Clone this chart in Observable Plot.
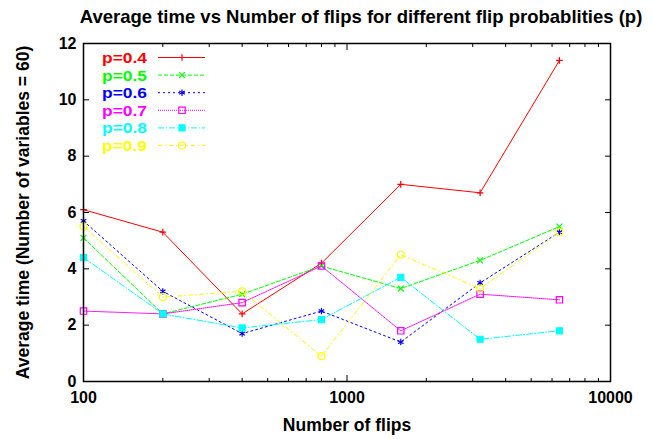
<!DOCTYPE html>
<html><head><meta charset="utf-8">
<script src="https://cdn.jsdelivr.net/npm/d3@7"></script>
<script src="https://cdn.jsdelivr.net/npm/@observablehq/plot@0.6"></script>
<style>body{margin:0;background:#fff}</style>
</head><body><div id="chart"></div>
<script>
const flips = [100, 200, 400, 800, 1600, 3200, 6400];
const p04 = [6.1, 5.3, 2.4, 4.2, 7.0, 6.7, 11.4];
const p05 = [5.1, 2.4, 3.1, 4.1, 3.3, 4.3, 5.5];
const p06 = [5.7, 3.2, 1.7, 2.5, 1.4, 3.5, 5.3];
const p07 = [2.5, 2.4, 2.8, 4.1, 1.8, 3.1, 2.9];
const p08 = [4.4, 2.4, 1.9, 2.2, 3.7, 1.5, 1.8];
const p09 = [5.5, 3.0, 3.2, 0.9, 4.5, 3.3, 5.3];
const seriesLabels = ["p=0.4", "p=0.5", "p=0.6", "p=0.7", "p=0.8", "p=0.9"];
const seriesValues = [p04, p05, p06, p07, p08, p09];
const xMajor = [100, 1000, 10000];
const xMinor = [200, 300, 400, 500, 600, 700, 800, 900, 2000, 3000, 4000, 5000, 6000, 7000, 8000, 9000];
const yTicks = [0, 2, 4, 6, 8, 10, 12];
const titleText = "Average time vs Number of flips for different flip probablities (p)";
const xLabel = "Number of flips";
const yLabel = "Average time (Number of variables = 60)";

const colors = ["#ff0000", "#00ff00", "#0000ff", "#ff00ff", "#00ffff", "#ffff00"];
const dashes = [null, "4,2", "2,3", "1,1", "6,2,1,2", "4,3,1,3"];
const symbols = ["plus", "times", "asterisk", "square", "square", "circle"];
const fills = ["none", "none", "none", "none", "#00ffff", "none"];
const radii = [2.3, 2.8, 3.0, 3.6, 3.4, 3.5];
const d3sym = {plus: d3.symbolPlus, times: d3.symbolTimes, asterisk: d3.symbolAsterisk, square: d3.symbolSquare, circle: d3.symbolCircle};

const series = seriesLabels.map((label, i) => ({
  label, color: colors[i], dash: dashes[i], symbol: symbols[i], fill: fills[i], r: radii[i],
  data: flips.map((f, j) => ({flips: f, time: seriesValues[i][j]}))
}));

const font = "'Liberation Sans', Arial, Helvetica, sans-serif";
const marks = [];
// ticks (inward, mirrored)
const tickCommon = {text: null, fill: null, label: null, stroke: "#000", strokeWidth: 1};
marks.push(Plot.axisX(xMajor, {...tickCommon, anchor: "bottom", tickSize: 6, dy: -6}));
marks.push(Plot.axisX(xMinor, {...tickCommon, anchor: "bottom", tickSize: 3, dy: -3}));
marks.push(Plot.axisX(xMajor, {...tickCommon, anchor: "top", tickSize: 6, dy: 6}));
marks.push(Plot.axisX(xMinor, {...tickCommon, anchor: "top", tickSize: 3, dy: 3}));
marks.push(Plot.axisY(yTicks, {...tickCommon, anchor: "left", tickSize: 6, dx: 6}));
marks.push(Plot.axisY(yTicks, {...tickCommon, anchor: "right", tickSize: 6, dx: -6}));
// tick labels
marks.push(Plot.axisX(xMajor, {anchor: "bottom", tickSize: 0, tickPadding: 10, tickFormat: d => String(d), label: null, fontSize: 16, fontWeight: "bold", fill: "#000"}));
marks.push(Plot.axisY(yTicks, {anchor: "left", tickSize: 0, tickPadding: 7, tickFormat: d => String(d), label: null, fontSize: 16, fontWeight: "bold", fill: "#000"}));
// data
for (const s of series) {
  marks.push(Plot.line(s.data, {x: "flips", y: "time", stroke: s.color, strokeWidth: 1, strokeDasharray: s.dash || undefined}));
  marks.push(Plot.dot(s.data, {x: "flips", y: "time", symbol: s.symbol, r: s.r, stroke: s.color, fill: s.fill, strokeWidth: 1.2}));
}
marks.push(Plot.frame({stroke: "#000", strokeWidth: 1.5}));
// texts
marks.push(Plot.text([titleText], {frameAnchor: "top", dx: 14, dy: -26, fontSize: 18.5, fontWeight: "bold", fill: "#000", lineAnchor: "middle"}));
marks.push(Plot.text([xLabel], {frameAnchor: "bottom", dy: 44, fontSize: 17.5, fontWeight: "bold", fill: "#000", lineAnchor: "middle"}));
marks.push(Plot.text([yLabel], {frameAnchor: "left", dx: -60, rotate: -90, textAnchor: "middle", fontSize: 17.5, fontWeight: "bold", fill: "#000", lineAnchor: "middle"}));

const plot = Plot.plot({
  width: 652, height: 439,
  marginLeft: 83, marginRight: 42, marginTop: 43, marginBottom: 58,
  style: {fontFamily: font, background: "#fff", overflow: "visible"},
  x: {type: "log", domain: [100, 10000], axis: null},
  y: {domain: [0, 12], axis: null},
  marks
});
document.getElementById("chart").appendChild(plot);

// legend (top-left inside frame)
const svg = d3.select(plot);
const lg = svg.append("g").attr("font-family", font).attr("font-weight", "bold").attr("font-size", 15);
series.forEach((s, i) => {
  const y = 57.5 + i * 17.6;
  lg.append("text").attr("x", 147).attr("y", y).attr("dy", "0.36em").attr("text-anchor", "end")
    .attr("textLength", 45).attr("lengthAdjust", "spacingAndGlyphs").attr("fill", s.color).text(s.label);
  lg.append("line").attr("x1", 158).attr("x2", 205).attr("y1", y).attr("y2", y)
    .attr("stroke", s.color).attr("stroke-width", 1).attr("stroke-dasharray", s.dash);
  lg.append("path").attr("transform", `translate(182,${y})`)
    .attr("d", d3.symbol(d3sym[s.symbol], Math.PI * s.r * s.r)())
    .attr("stroke", s.color).attr("fill", s.fill).attr("stroke-width", 1.2);
});
</script></body></html>
